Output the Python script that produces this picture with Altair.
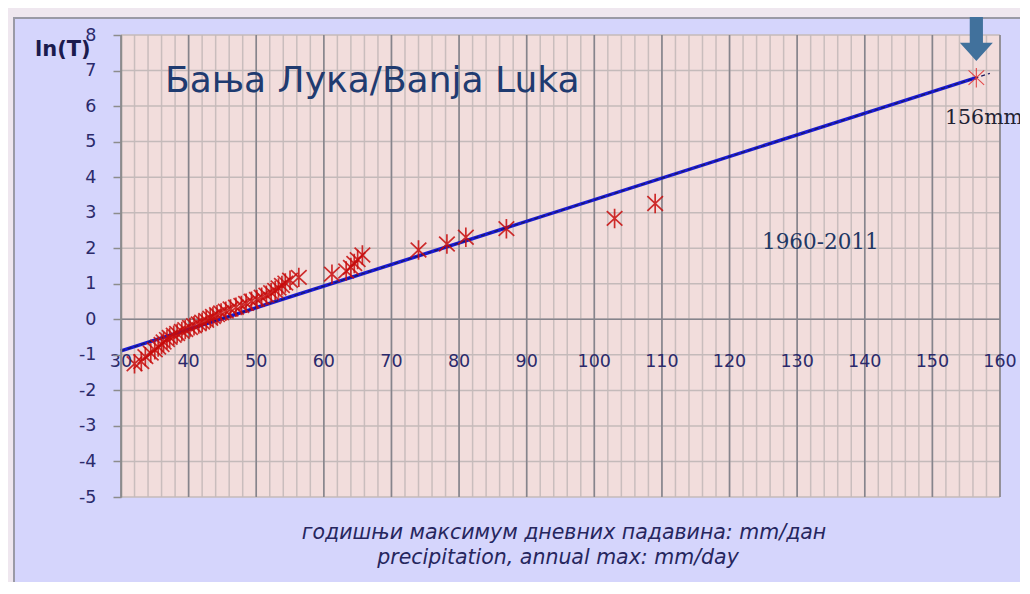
import altair as alt
import pandas as pd

# ---------------- data ----------------
precip_mm = [32.0, 33.0, 33.6, 34.4, 35.0, 35.5, 36.0, 36.3, 36.8, 37.2,
             37.8, 38.3, 39.0, 39.5, 40.2, 40.8, 41.5, 42.0, 42.6, 43.2,
             43.6, 44.2, 44.8, 45.5, 46.2, 47.0, 47.8, 48.5, 49.3, 50.1,
             50.8, 51.5, 52.2, 52.8, 53.3, 53.8, 54.3, 55.0, 56.3, 61.2,
             63.3, 64.0, 64.5, 65.0, 65.7, 74.0, 78.2, 81.0, 87.0, 103.0,
             109.0]
ln_t = [-1.25, -1.19, -1.05, -0.95, -0.86, -0.78, -0.71, -0.64, -0.57, -0.51,
        -0.45, -0.40, -0.34, -0.29, -0.23, -0.18, -0.13, -0.08, -0.03, 0.03,
        0.08, 0.13, 0.18, 0.23, 0.29, 0.34, 0.39, 0.45, 0.51, 0.56,
        0.62, 0.68, 0.75, 0.81, 0.88, 0.95, 1.02, 1.10, 1.18, 1.27,
        1.36, 1.46, 1.57, 1.68, 1.81, 1.95, 2.12, 2.31, 2.55, 2.84,
        3.26]
record_mm = [156.5]
record_ln_t = [6.8]
fit_mm = [30.0, 156.5]
fit_ln_t = [-0.89, 6.8]
trend_mm = [30.0, 158.5]
trend_ln_t = [-0.89, 6.92]
arrow_mm = [156.5]
arrow_ln_t = [7.89]
x_tick_labels = [30, 40, 50, 60, 70, 80, 90, 100, 110, 120, 130, 140, 150, 160]
x_minor_grid = list(range(30, 161, 2))
y_ticks = list(range(-5, 9))

title_text = "Бања Лука/Banja Luka"
period_text = "1960-2011"
record_text = "156mm"
y_title = "ln(T)"
x_title_1 = "годишњи максимум дневних падавина: mm/дан"
x_title_2 = "precipitation, annual max: mm/day"

# ---------------- styling ----------------
W, H = 879, 462
xs = alt.Scale(domain=[30, 160], nice=False, zero=False)
ys = alt.Scale(domain=[-5, 8], nice=False, zero=False)
yaxis = alt.Axis(values=y_ticks, grid=False, title=None, zindex=1,
                 labelExpr="toString(datum.value)",
                 labelFont="DejaVu Sans", labelFontSize=17.5, labelColor="#2B2A6B",
                 tickColor="#8C8C8C", tickSize=8, tickWidth=1.5,
                 domainColor="#8C8C8C", domainWidth=1.5, labelPadding=17)


def X(f):
    return alt.X(f, type="quantitative", scale=xs, axis=None)


def Y(f):
    return alt.Y(f, type="quantitative", scale=ys, axis=yaxis)


one = pd.DataFrame({"k": [0]})

frame = alt.Chart(one).mark_rect(fill="#D5D5FC", stroke="#9A9AA6", strokeWidth=2,
                                 clip=False).encode(
    x=alt.value(-107), x2=alt.value(910), y=alt.value(-17), y2=alt.value(560))

plot_bg = alt.Chart(one).mark_rect(fill="#F2DDDC").encode(
    x=alt.value(0), x2=alt.value(W), y=alt.value(0), y2=alt.value(H))

minor_v = alt.Chart(pd.DataFrame({"x": x_minor_grid})).mark_rule(
    color="#C9BDBD", strokeWidth=1.5).encode(x=X("x"))

hgrid = alt.Chart(pd.DataFrame({"y": y_ticks})).mark_rule(
    color="#C4BABA", strokeWidth=1.5).encode(y=Y("y"))

major_v = alt.Chart(pd.DataFrame({"x": x_tick_labels})).mark_rule(
    color="#86848C", strokeWidth=1.6).encode(x=X("x"))

zero_line = alt.Chart(pd.DataFrame({"y": [0]})).mark_rule(
    color="#86848C", strokeWidth=1.6).encode(y=Y("y"))

fit_df = pd.DataFrame({"x": fit_mm, "y": fit_ln_t})
fit_line = alt.Chart(fit_df).mark_line(color="#1A1AD2", strokeWidth=3.5).encode(
    x=X("x"), y=Y("y"))

trend_df = pd.DataFrame({"x": trend_mm, "y": trend_ln_t})
trend_line = alt.Chart(trend_df).mark_line(
    color="#1B1B5E", strokeWidth=1.2, strokeDash=[4, 3]).encode(x=X("x"), y=Y("y"))

STAR = "M0,-1L0,1M-0.8,-0.75L0.8,0.75M-0.8,0.75L0.8,-0.75"
pts_df = pd.DataFrame({"x": precip_mm, "y": ln_t})
points = alt.Chart(pts_df).mark_point(
    shape=STAR, filled=False, color="#C80C0C", strokeWidth=1.7, size=380,
    opacity=0.85).encode(x=X("x"), y=Y("y"))

rec_df = pd.DataFrame({"x": record_mm, "y": record_ln_t})
record = alt.Chart(rec_df).mark_point(
    shape=STAR, filled=False, color="#E23A3A", strokeWidth=1.1, size=380,
    opacity=0.9).encode(x=X("x"), y=Y("y"))

ARROW = "M-0.3,-1L0.3,-1L0.3,0.18L0.75,0.18L0,1L-0.75,0.18L-0.3,0.18Z"
arr_df = pd.DataFrame({"x": arrow_mm, "y": arrow_ln_t})
arrow = alt.Chart(arr_df).mark_point(
    shape=ARROW, filled=True, color="#41719C", size=1936, opacity=1,
    clip=False).encode(x=X("x"), y=Y("y"))

xlab = alt.Chart(pd.DataFrame({"x": x_tick_labels})).mark_text(
    font="DejaVu Sans", fontSize=17.5, color="#2B2A6B", baseline="middle",
    align="center").encode(x=X("x"), y=alt.value(327), text="x:Q")


def label(text, x, y, **kw):
    return alt.Chart(one).mark_text(text=text, align="left", baseline="middle",
                                    clip=False, **kw).encode(
        x=alt.value(x), y=alt.value(y))


title_mark = label(title_text, 44, 46, font="DejaVu Sans", fontSize=36, color="#1F3B70")
period_mark = label(period_text, 641, 208, font="DejaVu Serif", fontSize=21.5, color="#1F3864")
record_mark = label(record_text, 824, 83, font="DejaVu Serif", fontSize=20.5, color="#222233")
ytitle_mark = label(y_title, -86, 15, font="DejaVu Sans", fontSize=21,
                    fontWeight="bold", color="#1B1B4E")
xt1 = alt.Chart(one).mark_text(text=x_title_1, align="center", baseline="middle",
                               font="DejaVu Sans", fontSize=20.5, fontStyle="italic",
                               color="#26265E", clip=False).encode(
    x=alt.value(443), y=alt.value(498))
xt2 = alt.Chart(one).mark_text(text=x_title_2, align="center", baseline="middle",
                               font="DejaVu Sans", fontSize=20.5, fontStyle="italic",
                               color="#26265E", clip=False).encode(
    x=alt.value(437), y=alt.value(523))

chart = alt.layer(
    frame, plot_bg, minor_v, hgrid, major_v, zero_line,
    fit_line, trend_line, points, record, arrow,
    xlab, title_mark, period_mark, record_mark, ytitle_mark, xt1, xt2,
).properties(
    width=W, height=H,
    autosize=alt.AutoSizeParams(type="none"),
    padding={"left": 113, "top": 27, "right": 20, "bottom": 85},
).configure(
    background="#EFE7EF",
).configure_view(stroke=None)

chart.save("out.html", embed_options={"renderer": "svg", "actions": False})
